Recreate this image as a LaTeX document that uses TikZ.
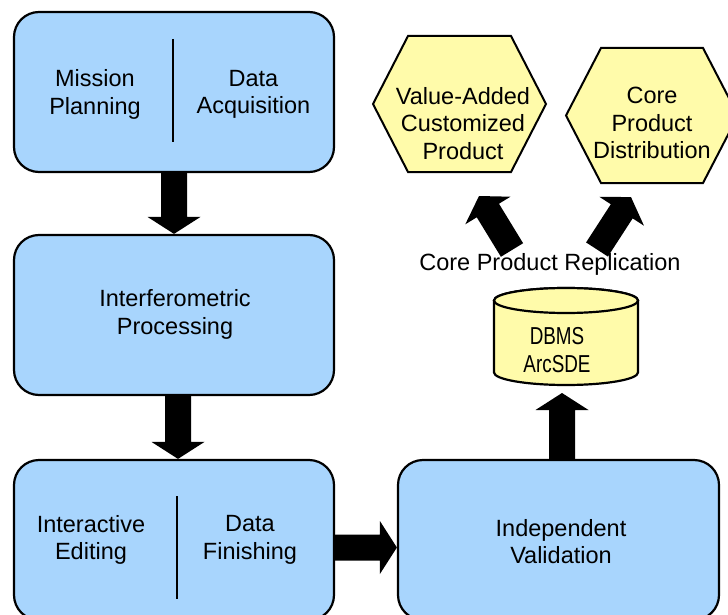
\documentclass[tikz,border=0pt]{standalone}
\usepackage{fontspec}
\setmainfont{Liberation Sans}
\newfontfamily\narrowfont[FakeStretch=0.77]{Liberation Sans}
\usetikzlibrary{calc}

\definecolor{boxblue}{RGB}{168,213,253}
\definecolor{paleyellow}{RGB}{255,251,170}

\tikzset{
  stage/.style={draw=black, line width=2.2pt, fill=boxblue, rounded corners=25pt,
    inner sep=0pt, minimum height=160pt},
  txt/.style={font=\fontsize{23.5}{27.5}\selectfont, align=center, inner sep=0pt, text depth=0pt},
  dbtxt/.style={font=\narrowfont\fontsize{24.5}{28}\selectfont, align=center, inner sep=0pt, text depth=0pt},
  divider/.style={draw=black, line width=2pt},
  hexshape/.style={draw=black, line width=2pt, fill=paleyellow, line join=miter},
  cyl/.style={draw=black, line width=2.2pt, fill=paleyellow},
}

% filled block arrow from #1 to #2: shaft 26pt wide, head 53pt wide and 17pt long
\newcommand\blockarrow[2]{%
  \fill[black] let \p1=(#1), \p2=(#2),
      \n1={atan2(\y2-\y1,\x2-\x1)}, \n2={veclen(\x2-\x1,\y2-\y1)-17}
    in [shift={(\p1)}, rotate=\n1]
      (0pt,-13pt) -- ({\n2*1pt},-13pt) -- ({\n2*1pt},-26.5pt) -- ({(\n2+17)*1pt},0pt)
      -- ({\n2*1pt},26.5pt) -- ({\n2*1pt},13pt) -- (0pt,13pt) -- cycle;}

\begin{document}
\begin{tikzpicture}[x=1pt, y=-1pt]
\useasboundingbox (0,0) rectangle (728,615);
\clip (0,0) rectangle (728,615);

% processing stages
\node[stage, minimum width=320pt] (plan)  at (174,92)    {};
\node[stage, minimum width=320pt] (interf) at (174,315)  {};
\node[stage, minimum width=320pt] (edit)  at (174,540)   {};
\node[stage, minimum width=321pt] (valid) at (558.5,540) {};

\draw[divider] (173,39) -- (173,142);
\draw[divider] (177,496) -- (177,599);

\node[txt] (mp) at (95,92)     {Mission\\Planning};
\node[txt] (da) at (253.5,92)  {Data\\Acquisition};
\node[txt] (ip) at (175,312)   {Interferometric\\Processing};
\node[txt] (ie) at (91,537.5)  {Interactive\\Editing};
\node[txt] (df) at (250,537.5) {Data\\Finishing};
\node[txt] (iv) at (561,541.5) {Independent\\Validation};

% database cylinder
\filldraw[cyl] (494,300.5) -- (494,372.5)
  arc[start angle=180, end angle=360, x radius=72pt, y radius=12.5pt]
  -- (638,300.5)
  arc[start angle=0, end angle=180, x radius=72pt, y radius=12.5pt] -- cycle;
\draw[cyl] (566,300.5) ellipse[x radius=72pt, y radius=12.5pt];
\node[dbtxt] (db) at (557,349.5) {DBMS\\ArcSDE};
\coordinate (dbIn) at (562,393);

% product hexagons
\filldraw[hexshape] (373,104) -- (408,36) -- (511,36) -- (546,104) -- (511,172) -- (408,172) -- cycle;
\filldraw[hexshape] (566,115.5) -- (601,48) -- (703,48) -- (738,115.5) -- (703,183) -- (601,183) -- cycle;
\node[txt] (va) at (463,123) {Value-Added\\Customized\\Product};
\node[txt] (cp) at (652,123) {Core\\Product\\Distribution};

\node[txt] (repl) at (550,262) {Core Product Replication};
\coordinate (vaFoot) at (512,250);
\coordinate (vaTip)  at (479,196);
\coordinate (cpFoot) at (597,249.5);
\coordinate (cpTip)  at (631,197);

% flow arrows
\blockarrow{plan.south}{interf.north}
\blockarrow{$(interf.south)+(4,0)$}{$(edit.north)+(4,0)$}
\blockarrow{$(edit.east)+(0,7.5)$}{$(valid.west)+(0,7.5)$}
\blockarrow{$(valid.north)+(3.5,0)$}{dbIn}
\blockarrow{vaFoot}{vaTip}
\blockarrow{cpFoot}{cpTip}
\end{tikzpicture}
\end{document}
